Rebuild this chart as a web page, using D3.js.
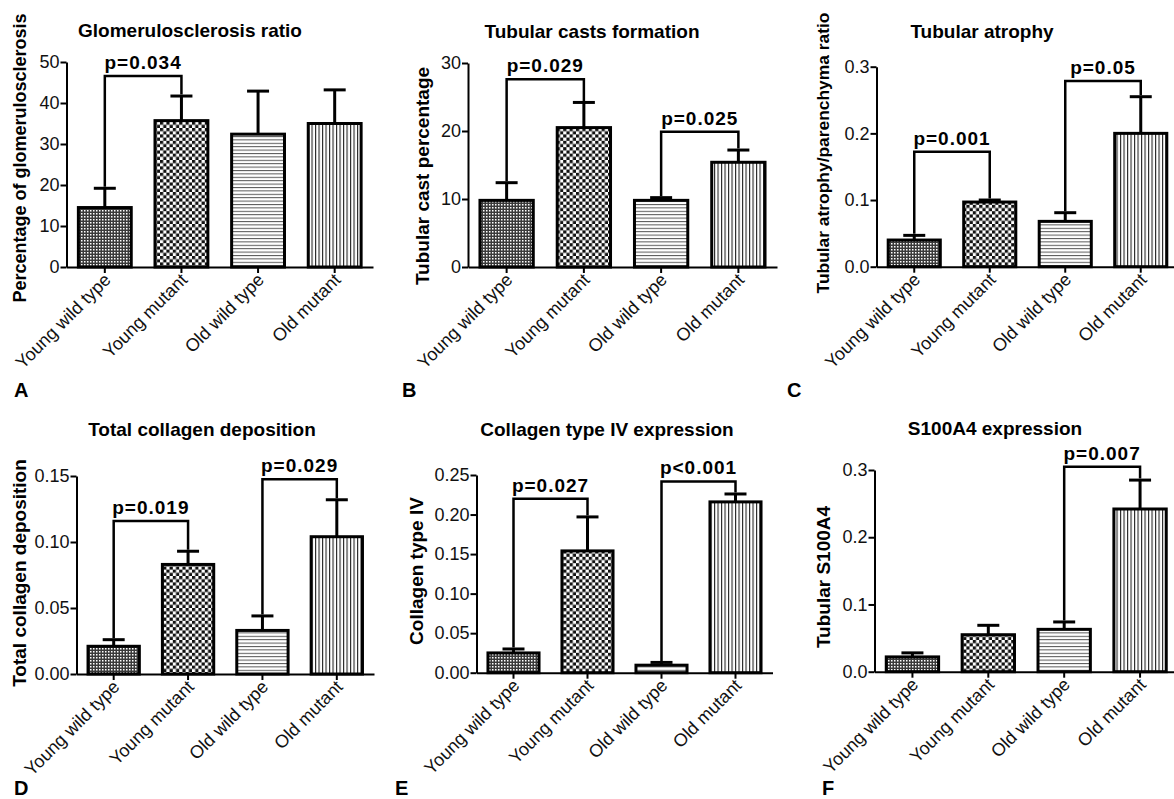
<!DOCTYPE html>
<html>
<head>
<meta charset="utf-8">
<script src="https://cdn.jsdelivr.net/npm/d3@7"></script>
<style>
  body { margin: 0; background: #fff; }
  svg { display: block; font-family: "Liberation Sans", Arial, Helvetica, sans-serif; }
</style>
</head>
<body>
<svg id="chart" width="1174" height="799"></svg>
<script>
// Groups on every x axis
const groups = ['Young wild type', 'Young mutant', 'Old wild type', 'Old mutant'];

// Bar heights (mean) and SEM
const glomMean = [14.5, 35.7, 32.4, 35.0];
const glomSem = [4.7, 6.0, 10.5, 8.2];
const castMean = [9.8, 20.5, 9.8, 15.4];
const castSem = [2.6, 3.7, 0.4, 1.8];
const atrophyMean = [0.040, 0.097, 0.068, 0.200];
const atrophySem = [0.007, 0.003, 0.013, 0.055];
const collagenMean = [0.021, 0.083, 0.033, 0.104];
const collagenSem = [0.005, 0.010, 0.011, 0.028];
const col4Mean = [0.025, 0.154, 0.0095, 0.216];
const col4Sem = [0.005, 0.043, 0.0035, 0.010];
const s100Mean = [0.022, 0.055, 0.063, 0.242];
const s100Sem = [0.006, 0.014, 0.011, 0.043];

// Y axis ticks
const glomTicks = [0, 10, 20, 30, 40, 50];
const castTicks = [0, 10, 20, 30];
const atrophyTicks = [0, 0.1, 0.2, 0.3];
const collagenTicks = [0, 0.05, 0.10, 0.15];
const col4Ticks = [0, 0.05, 0.10, 0.15, 0.20, 0.25];
const s100Ticks = [0, 0.1, 0.2, 0.3];

// Significance brackets: [from group, to group, label, bracket level]
const glomP = [[0, 1, 'p=0.034', 46.6]];
const castP = [[0, 1, 'p=0.029', 27.6], [2, 3, 'p=0.025', 19.9]];
const atrophyP = [[0, 1, 'p=0.001', 0.1725], [2, 3, 'p=0.05', 0.2785]];
const collagenP = [[0, 1, 'p=0.019', 0.116], [2, 3, 'p=0.029', 0.1475]];
const col4P = [[0, 1, 'p=0.027', 0.22], [2, 3, 'p<0.001', 0.2418]];
const s100P = [[2, 3, 'p=0.007', 0.305]];

// Panel layout
const panels = [
  { letter: 'A', title: 'Glomerulosclerosis ratio', ylab: 'Percentage of glomerulosclerosis', labSize: 18,
    mean: glomMean, sem: glomSem, ticks: glomTicks, fmt: 'd', pv: glomP,
    x0: 66.5, x1: 373, y0: 267, y1: 62, titleX: 190, titleY: 37, labX: 26, labY: 158, letX: 14, letY: 397 },
  { letter: 'B', title: 'Tubular casts formation', ylab: 'Tubular cast percentage', labSize: 19,
    mean: castMean, sem: castSem, ticks: castTicks, fmt: 'd', pv: castP,
    x0: 468, x1: 777, y0: 267, y1: 63, titleX: 592, titleY: 38, labX: 429, labY: 176, letX: 402, letY: 397 },
  { letter: 'C', title: 'Tubular atrophy', ylab: 'Tubular atrophy/parenchyma ratio', labSize: 17.4,
    mean: atrophyMean, sem: atrophySem, ticks: atrophyTicks, fmt: '.1f', pv: atrophyP,
    x0: 876.5, x1: 1178.5, y0: 266.7, y1: 66.7, titleX: 982, titleY: 38, labX: 829, labY: 153, letX: 787, letY: 397 },
  { letter: 'D', title: 'Total collagen deposition', ylab: 'Total collagen deposition', labSize: 19,
    mean: collagenMean, sem: collagenSem, ticks: collagenTicks, fmt: '.2f', pv: collagenP,
    x0: 76.5, x1: 374, y0: 674, y1: 476, titleX: 202, titleY: 436, labX: 26, labY: 573, letX: 14, letY: 795 },
  { letter: 'E', title: 'Collagen type IV expression', ylab: 'Collagen type IV', labSize: 19,
    mean: col4Mean, sem: col4Sem, ticks: col4Ticks, fmt: '.2f', pv: col4P,
    x0: 476.5, x1: 772.5, y0: 672.7, y1: 475, titleX: 607, titleY: 436, labX: 423, labY: 571, letX: 395, letY: 795 },
  { letter: 'F', title: 'S100A4 expression', ylab: 'Tubular S100A4', labSize: 19,
    mean: s100Mean, sem: s100Sem, ticks: s100Ticks, fmt: '.1f', pv: s100P,
    x0: 874.5, x1: 1178, y0: 671.7, y1: 470, titleX: 995, titleY: 435, labX: 830, labY: 577, letX: 822, letY: 795 }
];

const svg = d3.select('#chart');

// Fill patterns, one per group
const defs = svg.append('defs');
const p1 = defs.append('pattern').attr('id', 'pat0').attr('patternUnits', 'userSpaceOnUse')
  .attr('width', 3).attr('height', 3);
p1.append('rect').attr('width', 3).attr('height', 3).attr('fill', '#3a3a3a');
p1.append('rect').attr('width', 1.5).attr('height', 1.5).attr('fill', '#fff');

const p2 = defs.append('pattern').attr('id', 'pat1').attr('patternUnits', 'userSpaceOnUse')
  .attr('width', 6.4).attr('height', 6.4);
p2.append('rect').attr('width', 6.4).attr('height', 6.4).attr('fill', '#fff');
p2.append('rect').attr('width', 3.2).attr('height', 3.2).attr('fill', '#111');
p2.append('rect').attr('x', 3.2).attr('y', 3.2).attr('width', 3.2).attr('height', 3.2).attr('fill', '#111');

const p3 = defs.append('pattern').attr('id', 'pat2').attr('patternUnits', 'userSpaceOnUse')
  .attr('width', 4).attr('height', 3.4);
p3.append('rect').attr('width', 4).attr('height', 3.4).attr('fill', '#fff');
p3.append('rect').attr('width', 4).attr('height', 1).attr('fill', '#555');

const p4 = defs.append('pattern').attr('id', 'pat3').attr('patternUnits', 'userSpaceOnUse')
  .attr('width', 3.5).attr('height', 4);
p4.append('rect').attr('width', 3.5).attr('height', 4).attr('fill', '#fff');
p4.append('rect').attr('width', 1.1).attr('height', 4).attr('fill', '#222');

panels.forEach(p => {
  const x = d3.scaleBand().domain(groups).range([p.x0, p.x1]).paddingInner(0.31).paddingOuter(0.155);
  const y = d3.scaleLinear().domain([0, d3.max(p.ticks)]).range([p.y0, p.y1]);
  const g = svg.append('g');
  const rows = groups.map((name, i) => ({ name, i, mean: p.mean[i], sem: p.sem[i] }));
  const cx = d => x(d) + x.bandwidth() / 2;

  // bars
  g.selectAll('rect.bar')
    .data(rows)
    .enter()
    .append('rect')
    .attr('class', 'bar')
    .attr('x', d => x(d.name))
    .attr('y', d => y(d.mean))
    .attr('width', x.bandwidth())
    .attr('height', d => y(0) - y(d.mean))
    .attr('fill', d => `url(#pat${d.i})`)
    .attr('stroke', '#000')
    .attr('stroke-width', 3);

  // error bars (upper only)
  const err = g.selectAll('g.err').data(rows).enter().append('g');
  err.append('line')
    .attr('x1', d => cx(d.name)).attr('x2', d => cx(d.name))
    .attr('y1', d => y(d.mean)).attr('y2', d => y(d.mean + d.sem))
    .attr('stroke', '#000').attr('stroke-width', 3);
  err.append('line')
    .attr('x1', d => cx(d.name) - 11).attr('x2', d => cx(d.name) + 11)
    .attr('y1', d => y(d.mean + d.sem)).attr('y2', d => y(d.mean + d.sem))
    .attr('stroke', '#000').attr('stroke-width', 3);

  // axes
  const yAxis = g.append('g')
    .attr('transform', `translate(${p.x0},0)`)
    .call(d3.axisLeft(y).tickValues(p.ticks).tickFormat(d3.format(p.fmt)).tickSize(6).tickSizeOuter(0));
  const xAxis = g.append('g')
    .attr('transform', `translate(0,${p.y0})`)
    .call(d3.axisBottom(x).tickSize(6).tickSizeOuter(0));
  [yAxis, xAxis].forEach(a => {
    a.attr('font-family', null).attr('font-size', null);
    a.select('.domain').attr('stroke-width', 2);
    a.selectAll('.tick line').attr('stroke-width', 2);
    a.selectAll('text').attr('fill', '#111');
  });
  yAxis.selectAll('text').style('font-size', '18px').attr('x', -7);
  xAxis.selectAll('text')
    .style('font-size', '18px')
    .style('text-anchor', 'end')
    .attr('x', 0).attr('y', 0).attr('dy', 0)
    .attr('transform', 'translate(7,14) rotate(-45)');

  // significance brackets
  p.pv.forEach(([a, b, label, level]) => {
    const xa = cx(groups[a]);
    const xb = cx(groups[b]);
    const ya = y(p.mean[a] + p.sem[a]) - 1.5;
    const yb = y(p.mean[b] + p.sem[b]) - 1.5;
    const yt = y(level);
    g.append('path')
      .attr('d', `M${xa},${ya}V${yt}H${xb}V${yb}`)
      .attr('fill', 'none')
      .attr('stroke', '#000')
      .attr('stroke-width', 2.5);
    g.append('text')
      .attr('x', (xa + xb) / 2)
      .attr('y', yt - 7)
      .attr('text-anchor', 'middle')
      .style('font-size', '19px')
      .style('font-weight', 'bold')
      .style('letter-spacing', '1px')
      .text(label);
  });

  // title, y label, panel letter
  g.append('text')
    .attr('x', p.titleX).attr('y', p.titleY)
    .attr('text-anchor', 'middle')
    .style('font-size', '19px').style('font-weight', 'bold')
    .text(p.title);
  g.append('text')
    .attr('transform', `translate(${p.labX},${p.labY}) rotate(-90)`)
    .attr('text-anchor', 'middle')
    .style('font-size', `${p.labSize}px`).style('font-weight', 'bold')
    .text(p.ylab);
  g.append('text')
    .attr('x', p.letX).attr('y', p.letY)
    .style('font-size', '20px').style('font-weight', 'bold')
    .text(p.letter);
});
</script>
</body>
</html>
